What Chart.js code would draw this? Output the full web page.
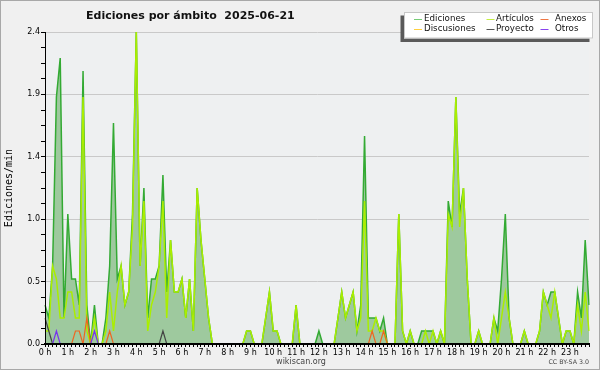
<!DOCTYPE html>
<html>
<head>
<meta charset="utf-8">
<script src="https://cdn.jsdelivr.net/npm/chart.js@4.4.1/dist/chart.umd.min.js"></script>
<style>
html,body{margin:0;padding:0;background:#f0f0f0;}
#wrap{width:600px;height:370px;position:relative;}
canvas{display:block;}
</style>
</head>
<body>
<div id="wrap"><canvas id="c" width="600" height="370"></canvas></div>
<script>
// ---------- data ----------
const chartTitle = 'Ediciones por ámbito  2025-06-21';
const yAxisTitle = 'Ediciones/min';
const footerLeft = 'wikiscan.org';
const footerRight = 'CC BY-SA 3.0';
const hourLabels = ['0 h','1 h','2 h','3 h','4 h','5 h','6 h','7 h','8 h','9 h','10 h','11 h',
                    '12 h','13 h','14 h','15 h','16 h','17 h','18 h','19 h','20 h','21 h','22 h','23 h'];
const yMajorTicks = [0, 0.48, 0.96, 1.44, 1.92, 2.4];
const yTickLabels = ['0.0','0.5','1.0','1.4','1.9','2.4'];

// one value every 10 minutes (144 bins)
const ediciones = [
  0.3,0.2,0.6,1.9,2.2,0.2,1.0,0.5,0.5,0.3,2.1,0.3,
  0,0.3,0,0,0.2,0.6,1.7,0.5,0.6,0.3,0.4,1.0,
  2.4,0.6,1.2,0.2,0.5,0.5,0.6,1.3,0.4,0.8,0.4,0.4,
  0.5,0.2,0.5,0.1,1.2,0.8,0.5,0.2,0,0,0,0,
  0,0,0,0,0,0.1,0.1,0,0,0,0.2,0.4,
  0.1,0.1,0,0,0,0,0.3,0,0,0,0,0,
  0.1,0,0,0,0,0.2,0.4,0.2,0.3,0.4,0.1,0.3,
  1.6,0.2,0.2,0.2,0.1,0.2,0,0,0,1.0,0.1,0,
  0.1,0,0,0.1,0.1,0.1,0.1,0,0.1,0,1.1,0.9,
  1.9,1.0,1.2,0.5,0,0,0.1,0,0,0,0.2,0.1,
  0.5,1.0,0.2,0,0,0,0.1,0,0,0,0.1,0.4,
  0.3,0.4,0.4,0.2,0,0.1,0.1,0,0.4,0.2,0.8,0.3
];
const articulos = [
  0.1,0.1,0.6,0.5,0.2,0.2,0.4,0.4,0.2,0.2,1.9,0.1,
  0,0.2,0,0,0.1,0.4,0.1,0.4,0.6,0.3,0.4,0.9,
  2.4,0.6,1.1,0.1,0.3,0.4,0.6,1.1,0.2,0.8,0.4,0.4,
  0.5,0.2,0.5,0.1,1.2,0.8,0.5,0.2,0,0,0,0,
  0,0,0,0,0,0.1,0.1,0,0,0,0.2,0.4,
  0.1,0.1,0,0,0,0,0.3,0,0,0,0,0,
  0,0,0,0,0,0.2,0.4,0.2,0.3,0.4,0.1,0.2,
  1.1,0.1,0.1,0.2,0.1,0.1,0,0,0,1.0,0.1,0,
  0.1,0,0,0,0.1,0,0.1,0,0.1,0,1.0,0.9,
  1.9,0.9,1.2,0.5,0,0,0.1,0,0,0,0.2,0,
  0.2,0.4,0.2,0,0,0,0.1,0,0,0,0.1,0.4,
  0.3,0.2,0.4,0.2,0,0.1,0.1,0,0.3,0.1,0.4,0.1
];
const anexos = [
  0,0,0,0,0,0,0,0,0.1,0.1,0,0.2,
  0,0,0,0,0,0.1,0,0,0,0,0,0,
  0,0,0,0,0,0,0,0,0,0,0,0,
  0,0,0,0,0,0,0,0,0,0,0,0,
  0,0,0,0,0,0,0,0,0,0,0,0,
  0,0,0,0,0,0,0,0,0,0,0,0,
  0,0,0,0,0,0,0,0,0,0,0,0,
  0,0,0.1,0,0,0.1,0,0,0,0,0,0,
  0,0,0,0,0,0,0,0,0,0,0,0,
  0,0,0,0,0,0,0,0,0,0,0,0,
  0,0,0,0,0,0,0,0,0,0,0,0,
  0,0,0,0,0,0,0,0,0,0,0,0
];
const discusiones = [
  0,0,0,0,0,0,0,0,0,0,0,0, 0,0,0,0,0,0,0,0,0,0,0,0,
  0,0,0,0,0,0,0,0,0,0,0,0, 0,0,0,0,0,0,0,0,0,0,0,0,
  0,0,0,0,0,0,0,0,0,0,0,0, 0,0,0,0,0,0,0,0,0,0,0,0,
  0,0,0,0,0,0,0,0,0,0,0,0, 0,0,0,0,0,0,0,0,0,0,0,0,
  0,0,0,0,0,0,0,0,0,0,0,0, 0,0,0,0,0,0,0,0,0,0,0,0,
  0,0,0,0,0,0,0,0,0,0,0,0, 0,0,0,0,0,0,0,0,0,0,0,0
];
const proyecto = [
  0.2,0.1,0,0,0,0,0,0,0,0,0,0,
  0,0,0,0,0,0,0,0,0,0,0,0,
  0,0,0,0,0,0,0,0.1,0,0,0,0,
  0,0,0,0,0,0,0,0,0,0,0,0,
  0,0,0,0,0,0,0,0,0,0,0,0, 0,0,0,0,0,0,0,0,0,0,0,0,
  0,0,0,0,0,0,0,0,0,0,0,0, 0,0,0,0,0,0,0,0,0,0,0,0,
  0,0,0,0,0,0,0,0,0,0,0,0, 0,0,0,0,0,0,0,0,0,0,0,0,
  0,0,0,0,0,0,0,0,0,0,0,0, 0,0,0,0,0,0,0,0,0,0,0,0
];
const otros = [
  0,0,0,0.1,0,0,0,0,0,0,0,0,
  0,0.1,0,0,0,0,0,0,0,0,0,0,
  0,0,0,0,0,0,0,0,0,0,0,0, 0,0,0,0,0,0,0,0,0,0,0,0,
  0,0,0,0,0,0,0,0,0,0,0,0, 0,0,0,0,0,0,0,0,0,0,0,0,
  0,0,0,0,0,0,0,0,0,0,0,0, 0,0,0,0,0,0,0,0,0,0,0,0,
  0,0,0,0,0,0,0,0,0,0,0,0, 0,0,0,0,0,0,0,0,0,0,0,0,
  0,0,0,0,0,0,0,0,0,0,0,0, 0,0,0,0,0,0,0,0,0,0,0,0
];

// ---------- build ----------
const categories = [];
for (let i = 0; i < ediciones.length; i++) {
  categories.push(String(Math.floor(i / 6)).padStart(2, '0') + ':' + (i % 6) + '0');
}
const yAllTicks = [];
for (let k = 0; k < yMajorTicks.length; k++) {
  yAllTicks.push(yMajorTicks[k]);
  if (k < yMajorTicks.length - 1) {
    const step = (yMajorTicks[k + 1] - yMajorTicks[k]) / 4;
    for (let s = 1; s < 4; s++) yAllTicks.push(yMajorTicks[k] + step * s);
  }
}

Chart.defaults.font.family = 'DejaVu Sans';
Chart.defaults.color = '#000';

function ds(label, data, color, legendColor, order, width, extra) {
  return Object.assign({
    label, data, borderColor: color, legendColor,
    borderWidth: width, pointRadius: 0, pointHoverRadius: 0,
    tension: 0, fill: false, order
  }, extra || {});
}

const datasets = [
  ds('Ediciones', ediciones, '#33aa33', '#77cc77', 10, 1.5,
     {fill: 'origin', backgroundColor: '#9ec99e'}),
  ds('Artículos', articulos, '#aaee00', '#c4ee44', 9, 1.5),
  ds('Anexos', anexos, '#ee6622', '#ee7744', 6, 1.2),
  ds('Discusiones', discusiones, '#ffcc22', '#ffd040', 8, 1.2),
  ds('Proyecto', proyecto, '#444444', '#555555', 7, 1.2),
  ds('Otros', otros, '#7733ee', '#8844ee', 5, 1.2)
];

const decor = {
  id: 'decor',
  beforeDraw(chart) {
    const c = chart.ctx, a = chart.chartArea;
    c.save();
    c.fillStyle = '#f0f0f0';
    c.fillRect(0, 0, chart.width, chart.height);
    c.fillStyle = '#eef0f1';
    c.fillRect(a.left, a.top, a.right - a.left, a.bottom - a.top);
    c.strokeStyle = '#a8a8a8';
    c.lineWidth = 1;
    c.strokeRect(0.5, 0.5, chart.width - 1, chart.height - 1);
    c.restore();
  },
  afterDraw(chart) {
    const c = chart.ctx;
    c.save();
    // title
    c.fillStyle = '#111';
    c.font = 'bold 11px "DejaVu Sans"';
    c.textBaseline = 'alphabetic';
    c.textAlign = 'left';
    c.fillText(chartTitle, 86, 18.5);
    // legend box
    const bx = 404, by = 12, bw = 189, bh = 26.5;
    c.fillStyle = '#5a5a5a';
    c.fillRect(bx - 3.5, by + 3.5, bw, bh);
    c.fillStyle = '#ffffff';
    c.fillRect(bx, by, bw, bh);
    c.strokeStyle = '#c8c8c8';
    c.lineWidth = 1;
    c.strokeRect(bx + 0.5, by + 0.5, bw - 1, bh - 1);
    const colX = [414, 486.5, 540.5];
    const textX = [424, 496, 555];
    const rowY = [19, 29];
    c.font = '8.7px "DejaVu Sans"';
    c.textBaseline = 'middle';
    chart.data.datasets.forEach((d, k) => {
      const col = k % 3, row = Math.floor(k / 3);
      c.strokeStyle = d.legendColor;
      c.lineWidth = 1;
      c.beginPath();
      c.moveTo(colX[col], rowY[row] + 0.5);
      c.lineTo(colX[col] + 8, rowY[row] + 0.5);
      c.stroke();
      c.fillStyle = '#111';
      c.fillText(d.label, textX[col], rowY[row]);
    });
    // footer
    c.textBaseline = 'alphabetic';
    c.fillStyle = '#444';
    c.font = '8px "DejaVu Sans"';
    c.textAlign = 'center';
    c.fillText(footerLeft, 301, 363.5);
    c.font = '6.3px "DejaVu Sans"';
    c.textAlign = 'right';
    c.fillText(footerRight, 589, 364);
    c.restore();
  }
};

new Chart(document.getElementById('c'), {
  type: 'line',
  data: { labels: categories, datasets },
  options: {
    responsive: false,
    animation: false,
    devicePixelRatio: 1,
    layout: { padding: { left: 0, top: 32, right: 11, bottom: 0 } },
    plugins: { legend: { display: false }, title: { display: false }, tooltip: { enabled: false } },
    scales: {
      x: {
        type: 'category',
        offset: false,
        afterFit(s) { s.height = 26; },
        grid: { drawOnChartArea: false, tickLength: 3, tickColor: '#000', lineWidth: 1 },
        border: { display: true, color: '#000', width: 2, z: 1 },
        ticks: {
          autoSkip: false, maxRotation: 0, minRotation: 0, padding: 1,
          font: { size: 8 }, color: '#000',
          callback(v, i) { return i % 6 === 0 ? hourLabels[i / 6] : ''; }
        }
      },
      y: {
        type: 'linear',
        min: 0, max: 2.4,
        afterFit(s) { s.width = 45; },
        afterBuildTicks(s) { s.ticks = yAllTicks.map(v => ({ value: v })); },
        grid: {
          color: (ctx) => (ctx.index % 4 === 0 ? '#c9c9c9' : 'rgba(0,0,0,0)'),
          tickColor: '#000', tickLength: 4, lineWidth: 1
        },
        border: { display: true, color: '#000', width: 1, z: 1 },
        ticks: {
          padding: 1, font: { size: 8 }, color: '#000',
          callback(v, i) { return i % 4 === 0 ? yTickLabels[i / 4] : ''; }
        },
        title: {
          display: true, text: yAxisTitle, color: '#000',
          font: { family: 'DejaVu Sans Mono', size: 10 },
          padding: { top: 3, bottom: 0 }
        }
      }
    }
  },
  plugins: [decor]
});
</script>
</body>
</html>
